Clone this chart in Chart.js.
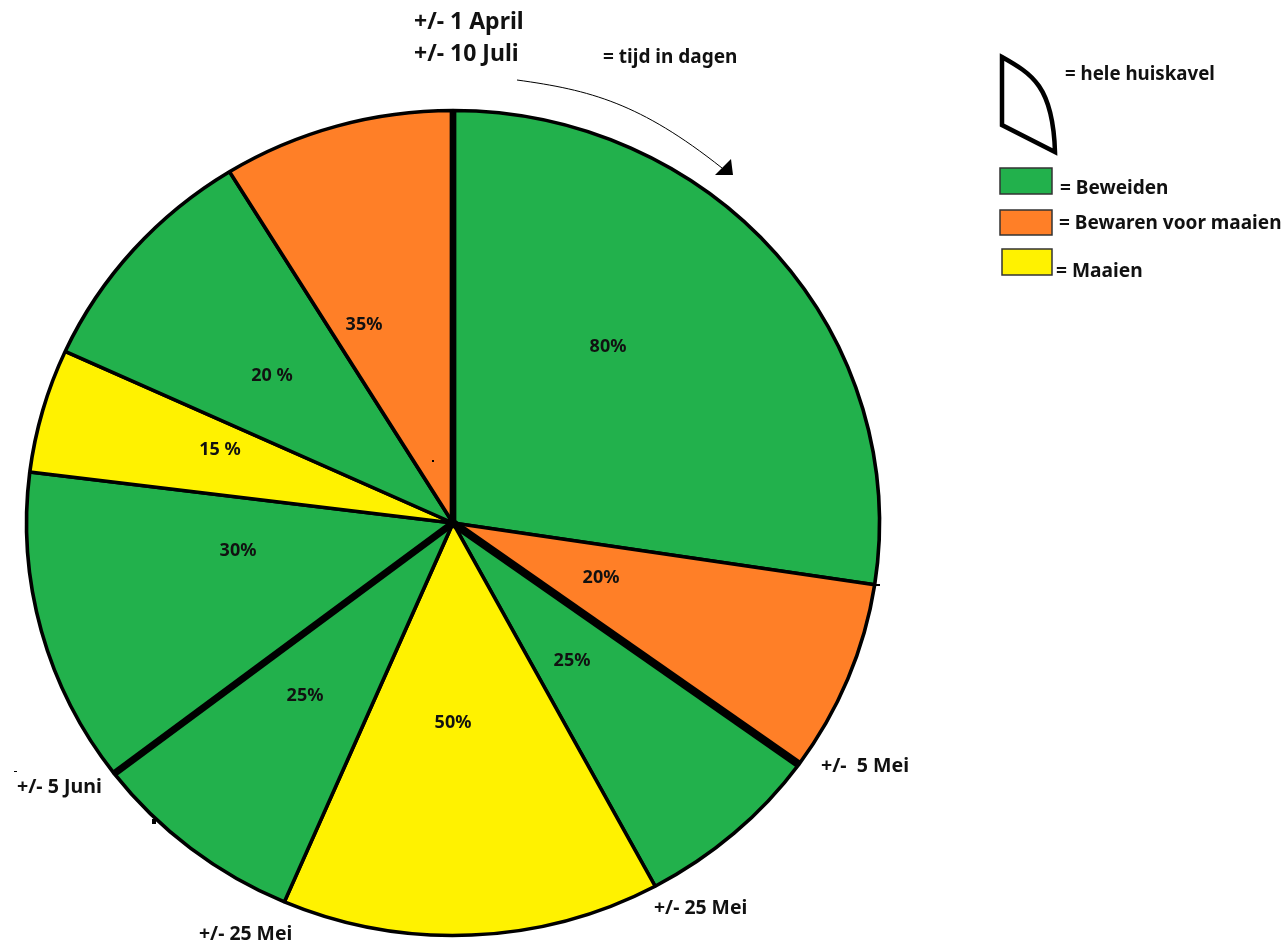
<!DOCTYPE html>
<html>
<head>
<meta charset="utf-8">
<title>Huiskavel</title>
<script src="https://cdn.jsdelivr.net/npm/chart.js@4/dist/chart.umd.min.js"></script>
<style>
html,body{margin:0;padding:0;background:#fff;}
canvas{display:block;}
</style>
</head>
<body>
<canvas id="pie" width="1287" height="944"></canvas>
<script>
// slices clockwise from the top, size = days (1 April - 10 Juli)
const categories=['Beweiden','Bewaren voor maaien','Beweiden','Maaien','Beweiden','Beweiden','Maaien','Beweiden','Bewaren voor maaien'];
const days=[27.39,7.56,7.19,14.33,8.14,12.36,4.86,9.39,8.78];
const percents=['80%','20%','25%','50%','25%','30%','15 %','20 %','35%'];

const GREEN='#22b14c',ORANGE='#ff7f27',YELLOW='#fff200';
const legendNames=['Beweiden','Bewaren voor maaien','Maaien'];
const legendColors=[GREEN,ORANGE,YELLOW];
const sliceColors=categories.map(c=>legendColors[legendNames.indexOf(c)]);

// slices that start on a period boundary get a heavy spoke
const heavySpokes=[[0,6.5],[2,8],[5,7]];

const FONT='"Noto Sans"';
const percentSpots=[[608,347],[601,578],[572,661],[453,723],[305,696],[238,551],[220,450],[272,376],[364,325]];
const notes=[
  ['+/- 1 April',414,22,23],
  ['+/- 10 Juli',414,54,23],
  ['= tijd in dagen',603,58,19],
  ['= hele huiskavel',1065,75,18.7],
  ['= Beweiden',1060,189,19],
  ['= Bewaren voor maaien',1059,224,19],
  ['= Maaien',1056,272,19.2],
  ['+/-  5 Mei',821,766,19.6],
  ['+/- 25 Mei',654,908,19.4],
  ['+/- 25 Mei',199,934,19.4],
  ['+/- 5 Juni',17,787,19.6]
];
const swatches=[[1000,168,52,26],[1000,210,52,25],[1002,249,50,26]];
// stray paint pixels in the drawing
const specks=[[432,460,2,2],[14,771,3,1],[152,819,4,5],[872,584,8,2]];

const stretchX=427/413; // the drawn pie is a bit wider than tall

const ellipse={
  id:'ellipse',
  beforeDatasetsDraw(chart){
    const a=chart.getDatasetMeta(0).data[0];
    const ctx=chart.ctx;
    ctx.save();
    ctx.translate(a.x,a.y);
    ctx.scale(stretchX,1);
    ctx.translate(-a.x,-a.y);
  },
  afterDatasetsDraw(chart){
    const arcs=chart.getDatasetMeta(0).data;
    const ctx=chart.ctx;
    ctx.strokeStyle='#000';
    ctx.lineCap='butt';
    heavySpokes.forEach(s=>{
      const a=arcs[s[0]];
      ctx.lineWidth=s[1];
      ctx.beginPath();
      ctx.moveTo(a.x,a.y);
      ctx.lineTo(a.x+Math.cos(a.startAngle)*(a.outerRadius+1),a.y+Math.sin(a.startAngle)*(a.outerRadius+1));
      ctx.stroke();
    });
    ctx.restore();
  }
};

const extras={
  id:'extras',
  afterDraw(chart){
    const ctx=chart.ctx;
    ctx.save();

    // whole plot shape
    ctx.strokeStyle='#000';
    ctx.lineWidth=4.5;
    ctx.lineJoin='miter';
    ctx.beginPath();
    ctx.moveTo(1002,57);
    ctx.bezierCurveTo(1032,74,1053,86,1055,152);
    ctx.lineTo(1002,125);
    ctx.closePath();
    ctx.stroke();

    // time arrow
    ctx.lineWidth=1;
    ctx.beginPath();
    ctx.moveTo(517,80);
    ctx.bezierCurveTo(590,90,640,103,722,168);
    ctx.stroke();
    ctx.fillStyle='#000';
    ctx.beginPath();
    ctx.moveTo(731,159);
    ctx.lineTo(715,175);
    ctx.lineTo(733,175);
    ctx.closePath();
    ctx.fill();

    specks.forEach(s=>ctx.fillRect(s[0],s[1],s[2],s[3]));

    swatches.forEach((s,i)=>{
      ctx.fillStyle=legendColors[i];
      ctx.fillRect(s[0],s[1],s[2],s[3]);
      ctx.strokeStyle='#333';
      ctx.lineWidth=1.5;
      ctx.strokeRect(s[0],s[1],s[2],s[3]);
    });

    ctx.fillStyle='#111';
    ctx.textBaseline='middle';
    ctx.textAlign='left';
    notes.forEach(n=>{
      ctx.font='bold '+n[3]+'px '+FONT;
      ctx.fillText(n[0],n[1],n[2]);
    });
    ctx.textAlign='center';
    ctx.font='bold 18px '+FONT;
    percents.forEach((p,i)=>{
      ctx.fillText(p,percentSpots[i][0],percentSpots[i][1]);
    });
    ctx.restore();
  }
};

new Chart(document.getElementById('pie'),{
  type:'pie',
  data:{
    labels:categories,
    datasets:[{
      data:days,
      backgroundColor:sliceColors,
      borderColor:'#000',
      borderWidth:3.5
    }]
  },
  options:{
    responsive:false,
    animation:false,
    devicePixelRatio:1,
    layout:{padding:{left:38.75,right:419.75,top:108.25,bottom:6.25}},
    plugins:{legend:{display:false},tooltip:{enabled:false}}
  },
  plugins:[ellipse,extras]
});
</script>
</body>
</html>
